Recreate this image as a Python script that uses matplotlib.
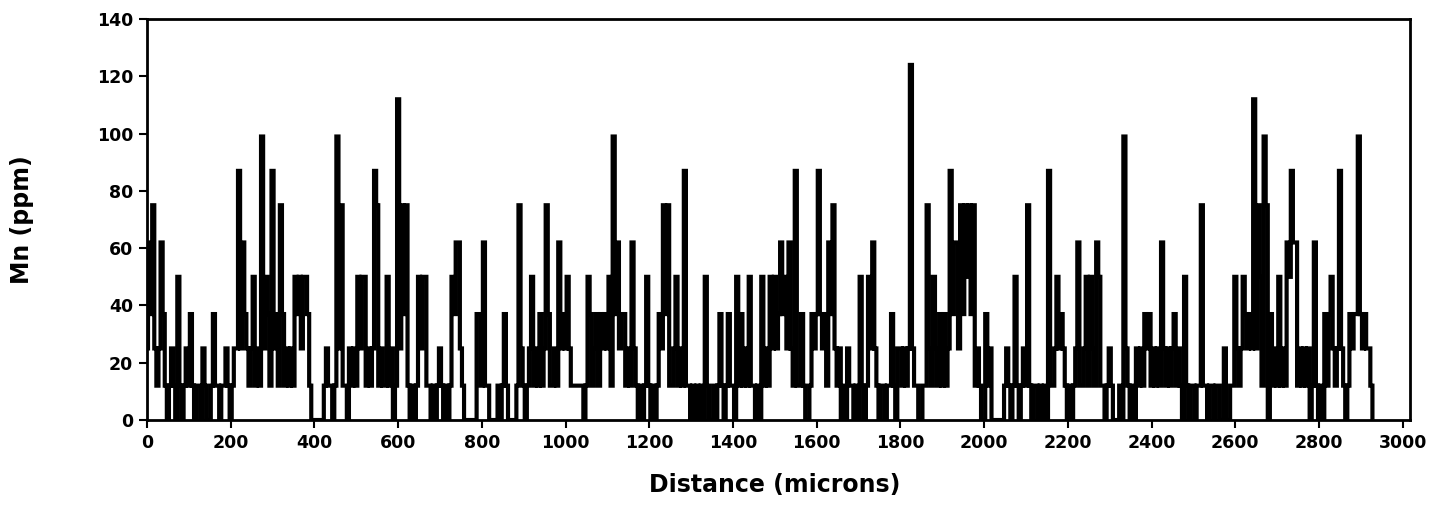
import matplotlib
matplotlib.use("Agg")
import matplotlib.pyplot as plt
import numpy as np

# Mn line scan, sampled every 5 microns
step_um = 5
mn_ppm = [
    # 0-95
    25, 62, 37, 75, 25, 12, 25, 62, 37, 12, 0, 12, 25, 12, 0, 50, 12, 0, 12, 25,
    # 100-195
    12, 37, 12, 0, 12, 12, 0, 25, 12, 0, 0, 12, 37, 12, 12, 0, 12, 12, 25, 12,
    # 200-295
    0, 12, 25, 25, 87, 25, 62, 37, 25, 12, 25, 50, 12, 25, 12, 99, 25, 50, 37, 12,
    # 300-395
    87, 25, 37, 12, 75, 37, 12, 25, 12, 25, 12, 50, 37, 50, 25, 50, 50, 37, 12, 0,
    # 400-495
    0, 0, 0, 0, 0, 12, 25, 12, 12, 0, 12, 99, 25, 75, 12, 12, 0, 25, 12, 25,
    # 500-595
    12, 50, 25, 50, 50, 12, 25, 12, 25, 87, 75, 12, 25, 12, 12, 50, 12, 25, 0, 12,
    # 600-695
    112, 25, 75, 37, 75, 12, 0, 12, 0, 12, 50, 25, 50, 50, 12, 12, 0, 12, 0, 12,
    # 700-795
    25, 12, 0, 12, 0, 12, 50, 37, 62, 62, 25, 12, 0, 0, 0, 0, 0, 0, 37, 37,
    # 800-895
    12, 62, 12, 12, 0, 0, 0, 0, 12, 0, 12, 37, 12, 0, 0, 0, 0, 12, 75, 25,
    # 900-995
    12, 0, 12, 25, 50, 12, 25, 12, 37, 12, 25, 75, 37, 12, 12, 25, 12, 62, 25, 37,
    # 1000-1095
    25, 50, 25, 12, 12, 12, 12, 12, 12, 0, 12, 50, 37, 12, 25, 37, 12, 37, 25, 37,
    # 1100-1195
    25, 50, 12, 99, 37, 62, 25, 37, 37, 12, 25, 12, 62, 25, 12, 0, 12, 0, 12, 50,
    # 1200-1295
    12, 0, 12, 0, 12, 37, 25, 75, 37, 75, 12, 12, 25, 50, 12, 25, 12, 87, 12, 12,
    # 1300-1395
    0, 12, 0, 12, 0, 12, 0, 50, 12, 0, 0, 12, 0, 12, 37, 12, 0, 12, 37, 12,
    # 1400-1495
    12, 0, 50, 12, 37, 12, 25, 12, 50, 12, 12, 0, 12, 0, 50, 12, 25, 12, 50, 25,
    # 1500-1595
    50, 25, 37, 62, 37, 50, 25, 62, 25, 12, 87, 12, 12, 37, 12, 0, 0, 12, 37, 25,
    # 1600-1695
    37, 87, 37, 25, 37, 12, 62, 37, 75, 25, 12, 25, 0, 12, 0, 25, 12, 12, 0, 12,
    # 1700-1795
    0, 50, 12, 0, 12, 50, 25, 62, 25, 12, 0, 12, 12, 0, 12, 12, 37, 12, 0, 25,
    # 1800-1895
    25, 12, 25, 12, 25, 124, 25, 12, 12, 0, 0, 12, 12, 75, 25, 12, 50, 25, 12, 37,
    # 1900-1995
    12, 37, 12, 25, 87, 37, 62, 62, 25, 75, 37, 75, 50, 75, 37, 75, 12, 25, 12, 0,
    # 2000-2095
    0, 37, 12, 25, 0, 0, 0, 0, 0, 0, 12, 25, 12, 0, 12, 50, 12, 0, 12, 25,
    # 2100-2195
    12, 75, 12, 0, 12, 12, 0, 12, 0, 12, 0, 87, 12, 12, 25, 50, 25, 37, 25, 12,
    # 2200-2295
    0, 12, 0, 12, 25, 62, 12, 12, 25, 50, 12, 50, 25, 12, 62, 50, 12, 12, 0, 12,
    # 2300-2395
    25, 12, 0, 0, 0, 12, 0, 99, 25, 12, 0, 12, 0, 25, 12, 25, 12, 37, 25, 37,
    # 2400-2495
    12, 25, 12, 25, 12, 62, 25, 12, 25, 12, 25, 37, 12, 25, 12, 0, 50, 12, 0, 12,
    # 2500-2595
    12, 0, 12, 12, 75, 12, 12, 0, 12, 12, 0, 12, 12, 0, 0, 25, 0, 0, 12, 12,
    # 2600-2695
    50, 25, 12, 25, 50, 37, 25, 37, 25, 112, 25, 75, 50, 12, 99, 75, 0, 37, 12, 25,
    # 2700-2795
    12, 50, 12, 25, 12, 62, 50, 87, 62, 62, 12, 25, 12, 25, 12, 25, 0, 12, 62, 12,
    # 2800-2895
    0, 12, 0, 37, 12, 37, 50, 25, 12, 25, 87, 25, 12, 0, 12, 37, 25, 37, 37, 99,
    # 2900-2930
    37, 25, 37, 25, 25, 12, 0,
]
distance_um = np.arange(len(mn_ppm)) * step_um

x_ticks = list(range(0, 3001, 200))
y_ticks = list(range(0, 141, 20))

plt.rcParams["font.family"] = ["DejaVu Sans"]
plt.rcParams["font.weight"] = "bold"

fig = plt.figure(figsize=(14.55, 5.31), dpi=100)
ax = fig.add_axes([0.1010, 0.209, 0.868, 0.755])

ax.plot(distance_um, mn_ppm, color="black", linewidth=3.0,
        drawstyle="steps-mid", solid_joinstyle="miter", solid_capstyle="butt")

ax.set_xlim(0, 3017)
ax.set_ylim(0, 140)
ax.set_xticks(x_ticks)
ax.set_yticks(y_ticks)
ax.tick_params(axis="both", direction="out", length=6, width=1.5,
               labelsize=12.5, colors="black", pad=4)
for lab in ax.get_xticklabels() + ax.get_yticklabels():
    lab.set_fontweight("bold")
for sp in ax.spines.values():
    sp.set_linewidth(2)
    sp.set_color("black")

ax.set_xlabel("Distance (microns)", fontsize=17, fontweight="bold")
ax.xaxis.set_label_coords(0.497, -0.162)
ax.xaxis.label.set_verticalalignment("center")
ax.set_ylabel("Mn (ppm)", fontsize=17, fontweight="bold")
ax.yaxis.set_label_coords(-0.099, 0.5)
ax.yaxis.label.set_verticalalignment("center")

fig.savefig("out.png", dpi=100, facecolor="white")
